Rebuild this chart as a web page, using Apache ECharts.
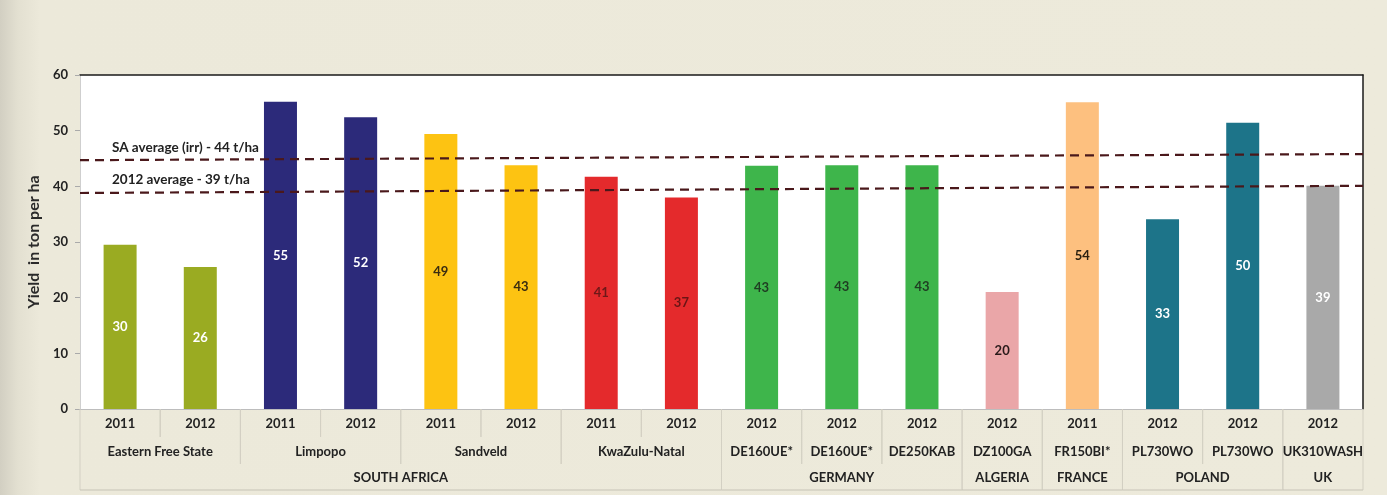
<!DOCTYPE html>
<html>
<head>
<meta charset="utf-8">
<script src="https://cdn.jsdelivr.net/npm/echarts@6/dist/echarts.min.js"></script>
<style>
  html, body { margin: 0; padding: 0; }
  body {
    width: 1387px; height: 495px; overflow: hidden;
    background: linear-gradient(to right, #d2cfc2 0px, #e3e0d1 18px, #ece9da 40px, #edeadb 100%);
  }
  #chart { width: 1387px; height: 495px; }
</style>
</head>
<body>
<div id="chart"></div>
<script>
// ---- data ----
const years = ['2011','2012','2011','2012','2011','2012','2011','2012','2012','2012','2012','2012','2011','2012','2012','2012'];
const yields = [29.5, 25.5, 55.2, 52.4, 49.4, 43.8, 41.7, 38.0, 43.7, 43.8, 43.8, 21.0, 55.1, 34.1, 51.4, 40.1];
const printedLabels = ['30','26','55','52','49','43','41','37','43','43','43','20','54','33','50','39'];
const sites = ['Eastern Free State','Limpopo','Sandveld','KwaZulu-Natal','DE160UE*','DE160UE*','DE250KAB','DZ100GA','FR150BI*','PL730WO','PL730WO','UK310WASH'];
const siteSpans = [2,2,2,2,1,1,1,1,1,1,1,1];
const countries = ['SOUTH AFRICA','GERMANY','ALGERIA','FRANCE','POLAND','UK'];
const countrySpans = [8,3,1,1,2,1];
const avgLabels = ['SA average (irr) - 44 t/ha', '2012 average - 39 t/ha'];
const avgStart = [44.7, 38.8];   // where the drawn line sits at the left edge
const avgEnd = [45.8, 40.1];     // where the drawn line sits at the right edge
const yTicks = { min: 0, max: 60, interval: 10 };

// ---- styles ----
const barColors = ['#9aab22','#9aab22','#2c2a7a','#2c2a7a','#fdc312','#fdc312','#e42a2c','#e42a2c','#3eb54b','#3eb54b','#3eb54b','#eaa6a8','#fdc07f','#1d7489','#1d7489','#a9a9a9'];
const labelColors = ['#ffffff','#ffffff','#ffffff','#ffffff','#3a2c10','#3a2c10','#6e1818','#6a1515','#1f3d22','#1f3d22','#1f3d22','#2a1a1a','#2a2010','#ffffff','#ffffff','#ffffff'];
const FONT = 'Lato, "Open Sans", sans-serif';

// ---- build table items ----
const tableTexts = [];
const tableItems = [];
years.forEach((y, i) => tableItems.push([i, 0, i, 0, -1]));
let pos = 0;
sites.forEach((s, k) => {
  tableTexts.push(s);
  tableItems.push([pos, 0, pos + siteSpans[k] - 1, 1, tableTexts.length - 1]);
  pos += siteSpans[k];
});
pos = 0;
countries.forEach((c, k) => {
  tableTexts.push(c);
  tableItems.push([pos, 0, pos + countrySpans[k] - 1, 2, tableTexts.length - 1]);
  pos += countrySpans[k];
});

const rowTop = [0, 28, 55];
const rowBot = [28, 55, 81];
function renderTable(params, api) {
  const start = api.value(0), end = api.value(2), row = api.value(3), ti = api.value(4);
  const bw = api.size([1, 0])[0];
  const x0 = api.coord([start, 0])[0] - bw / 2;
  const x1 = api.coord([end, 0])[0] + bw / 2;
  const base = api.coord([start, 0])[1];
  const lineStyle = { stroke: '#d3d0c3', lineWidth: 1 };
  const children = [
    { type: 'line', shape: { x1: x0, y1: base + rowTop[row], x2: x0, y2: base + rowBot[row] }, style: lineStyle },
    { type: 'line', shape: { x1: x1, y1: base + rowTop[row], x2: x1, y2: base + rowBot[row] }, style: lineStyle }
  ];
  if (row === 2) {
    children.push({ type: 'line', shape: { x1: x0, y1: base + rowBot[row], x2: x1, y2: base + rowBot[row] }, style: { stroke: '#c6c3b6', lineWidth: 1 } });
  }
  if (ti >= 0) {
    children.push({
      type: 'text',
      style: {
        text: tableTexts[ti], x: (x0 + x1) / 2, y: base + (rowTop[row] + rowBot[row]) / 2 + 1,
        align: 'center', verticalAlign: 'middle',
        font: 'bold 13px ' + FONT, fill: '#222'
      }
    });
  }
  return { type: 'group', children };
}

const chart = echarts.init(document.getElementById('chart'), null, { renderer: 'canvas' });
chart.setOption({
  backgroundColor: 'transparent',
  animation: false,
  grid: { left: 80, right: 24, top: 75, bottom: 86, show: true, backgroundColor: '#ffffff', borderWidth: 0, outerBoundsMode: 'none' },
  xAxis: [
    {
      type: 'category', data: years,
      axisLine: { show: true, lineStyle: { color: '#bdbdbd', width: 1 } },
      axisTick: { show: false },
      axisLabel: { interval: 0, margin: 8, color: '#222', fontWeight: 'bold', fontSize: 13, fontFamily: FONT },
      splitLine: { show: false }
    },
    {
      type: 'value', min: 0, max: 16, position: 'top',
      axisLine: { show: true, onZero: false, lineStyle: { color: '#1a1a1a', width: 1.5 } },
      axisTick: { show: false }, axisLabel: { show: false }, splitLine: { show: false }
    }
  ],
  yAxis: [
    {
      type: 'value', min: yTicks.min, max: yTicks.max, interval: yTicks.interval,
      name: 'Yield  in ton per ha', nameLocation: 'middle', nameGap: 35, nameRotate: 90,
      nameTextStyle: { color: '#2a2a2a', fontWeight: 'bold', fontSize: 16, fontFamily: FONT },
      axisLine: { show: true, lineStyle: { color: '#cfcfcf', width: 1 } },
      axisTick: { show: true, length: 5, lineStyle: { color: '#aaa' } },
      axisLabel: { color: '#222', fontWeight: 'bold', fontSize: 13, fontFamily: FONT, margin: 12 },
      splitLine: { show: false }
    },
    {
      type: 'value', min: yTicks.min, max: yTicks.max, position: 'right',
      axisLine: { show: true, lineStyle: { color: '#1a1a1a', width: 1.5 } },
      axisTick: { show: false }, axisLabel: { show: false }, splitLine: { show: false }
    }
  ],
  series: [
    {
      type: 'bar', xAxisIndex: 0, yAxisIndex: 0, barWidth: 33,
      data: yields.map((v, i) => ({
        value: v,
        itemStyle: { color: barColors[i] },
        label: { color: labelColors[i] }
      })),
      label: {
        show: true, position: 'inside', fontWeight: 'bold', fontSize: 13, fontFamily: FONT,
        formatter: p => printedLabels[p.dataIndex]
      },
      emphasis: { disabled: true }
    },
    ...avgLabels.map((txt, k) => ({
      type: 'line', xAxisIndex: 1, yAxisIndex: 0,
      symbol: 'circle', symbolSize: 0, showSymbol: true,
      lineStyle: { color: '#4a181b', width: 2.2, type: [9, 6] },
      data: [
        { value: [0, avgStart[k]], label: { show: true, position: 'right', distance: 0, offset: [32, -13], formatter: txt, color: '#222', fontWeight: 'bold', fontSize: 13.5, fontFamily: FONT } },
        { value: [16, avgEnd[k]] }
      ],
      z: 5, silent: true, emphasis: { disabled: true }
    })),
    {
      type: 'custom', xAxisIndex: 0, yAxisIndex: 0,
      renderItem: renderTable, clip: false, silent: true,
      encode: { x: 0, y: 1 },
      data: tableItems, z: 1
    }
  ]
});
</script>
</body>
</html>
